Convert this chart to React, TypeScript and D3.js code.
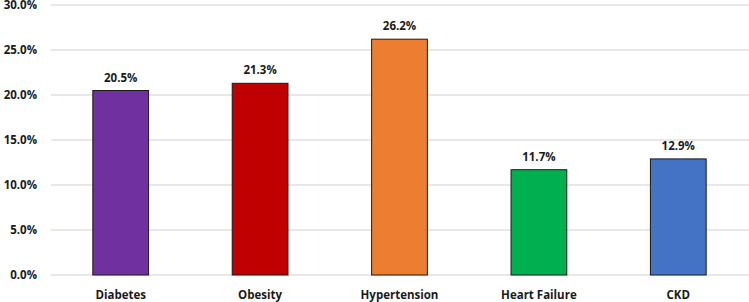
import React from "react";
import * as d3 from "d3";

const categories = ["Diabetes", "Obesity", "Hypertension", "Heart Failure", "CKD"];
const values = [20.5, 21.3, 26.2, 11.7, 12.9];
const colors = ["#7030A0", "#C00000", "#ED7D31", "#00B050", "#4472C4"];
const yTicks = [0, 5, 10, 15, 20, 25, 30];

const W = 749;
const H = 302;
const margin = { left: 51, right: 1, top: 5, bottom: 27 };

export default function App() {
  const x = d3
    .scaleBand<string>()
    .domain(categories)
    .range([margin.left, W - margin.right])
    .paddingInner(0.6)
    .paddingOuter(0.3);
  const y = d3.scaleLinear().domain([0, 30]).range([H - margin.bottom, margin.top]);
  const font = "'Open Sans', 'Liberation Sans', sans-serif";
  return (
    <svg
      width={W}
      height={H}
      style={{ position: "absolute", left: 0, top: 0, background: "#fff" }}
      fontFamily={font}
    >
      {yTicks.map((t) => (
        <g key={t}>
          <line x1={margin.left} x2={W} y1={y(t)} y2={y(t)} stroke="#E0E0E0" strokeWidth={1.3} />
          <text
            x={37}
            y={y(t)}
            dy="0.35em"
            textAnchor="end"
            fontSize={11.5}
            fontWeight={700}
            fill="#1a1a1a"
          >
            {t.toFixed(1) + "%"}
          </text>
        </g>
      ))}
      {categories.map((c, i) => (
        <g key={c}>
          <rect
            x={x(c)!}
            y={y(values[i])}
            width={x.bandwidth()}
            height={y(0) - y(values[i])}
            fill={colors[i]}
            stroke="#1a1a1a"
            strokeWidth={1}
          />
          <text
            x={x(c)! + x.bandwidth() / 2}
            y={y(values[i]) - 9}
            textAnchor="middle"
            fontSize={11.5}
            fontWeight={700}
            fill="#1a1a1a"
          >
            {values[i].toFixed(1) + "%"}
          </text>
          <text
            x={x(c)! + x.bandwidth() / 2}
            y={299}
            textAnchor="middle"
            fontSize={11.5}
            fontWeight={700}
            fill="#1a1a1a"
          >
            {c}
          </text>
        </g>
      ))}
    </svg>
  );
}
